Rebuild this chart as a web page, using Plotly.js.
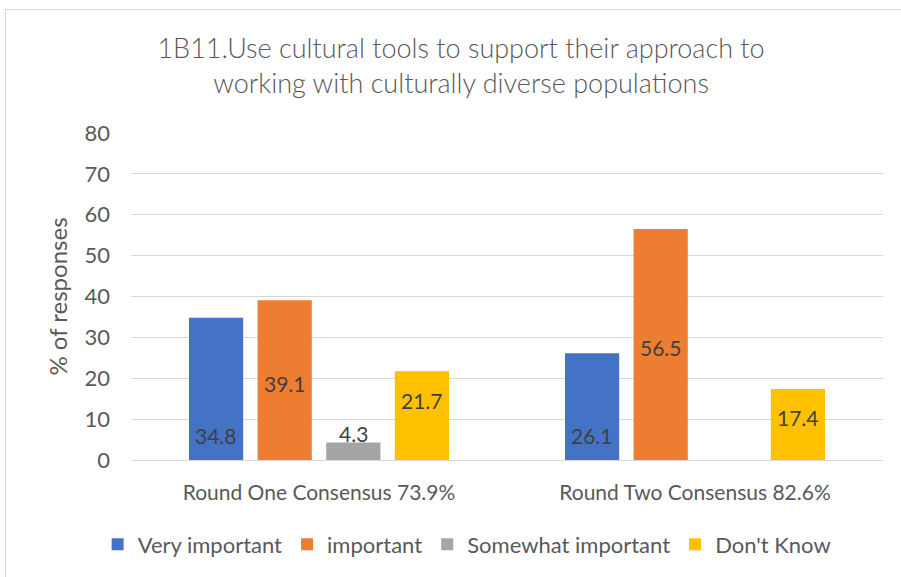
<!DOCTYPE html>
<html>
<head>
<meta charset="utf-8">
<script src="https://cdn.plot.ly/plotly-3.0.1.min.js"></script>
<style>
html,body{margin:0;padding:0;background:#fff;}
#frame{position:absolute;left:5px;top:9px;width:910px;height:600px;border:1px solid #d9d9d9;box-sizing:border-box;pointer-events:none;z-index:5;}
#chart{position:absolute;left:0;top:0;width:901px;height:577px;}
</style>
</head>
<body>
<div id="frame"></div>
<div id="chart"></div>
<script>
var categories = ["Round One Consensus 73.9%", "Round Two Consensus 82.6%"];
var seriesNames = ["Very important", "important", "Somewhat important", "Don't Know"];
var veryImportant = [34.8, 26.1];
var important = [39.1, 56.5];
var somewhatImportant = [4.3, null];
var dontKnow = [21.7, 17.4];
var yTicks = [0, 10, 20, 30, 40, 50, 60, 70, 80];

var colors = ["#4472C4", "#ED7D31", "#A5A5A5", "#FFC000"];
var font = "Lato, 'Open Sans', sans-serif";
var labelFont = {family: font, size: 21, color: "#404040"};

var W = 901, H = 577;
var margin = {l:131, r:18, t:133, b:115};
var bargap = 0.27, bargroupgap = 0.21;

var series = [veryImportant, important, somewhatImportant, dontKnow];
var traces = series.map(function(vals, i){
  return {type:"bar", name:seriesNames[i], x:categories, y:vals, marker:{color:colors[i]}, hoverinfo:"none"};
});

// data label placement rules (mimicking the original Excel label positions)
var labelRule = [
  function(v){ return {y:0, yshift:25}; },        // inside base
  function(v){ return {y:v/2, yshift:-3}; },      // centre
  function(v){ return {y:v, yshift:9}; },         // outside end
  function(v){ return {y:v, yshift:-29}; }        // inside end
];

var plotW = W - margin.l - margin.r;
var catW = plotW / categories.length;
var pitch = catW * (1 - bargap) / series.length;
var annotations = [];
series.forEach(function(vals, i){
  vals.forEach(function(v, j){
    if (v === null) return;
    var r = labelRule[i](v);
    annotations.push({x: categories[j], y: r.y, xref:"x", yref:"y", text: v.toFixed(1),
      showarrow:false, xshift:(i - (series.length-1)/2) * pitch, yshift:r.yshift,
      font: labelFont, xanchor:"center", yanchor:"middle"});
  });
});

var layout = {
  width: W, height: H,
  margin: margin,
  paper_bgcolor: "rgba(0,0,0,0)", plot_bgcolor: "#fff",
  title: {text: "1B11.Use cultural tools to support their approach to<br>working with culturally diverse populations",
          font: {family: font, size: 27, color: "#595959", weight: 300}, x: 0.5117, xanchor: "center", y: 0.8995, yanchor: "middle"},
  barmode: "group", bargap: bargap, bargroupgap: bargroupgap,
  showlegend: true,
  legend: {orientation: "h", x: 0.447, xanchor: "center", y: -0.258, yanchor: "middle",
           font: {family: font, size: 22, color: "#595959"}, traceorder: "normal", itemwidth: 30},
  annotations: annotations,
  xaxis: {type: "category", showgrid: false, showline: true, linecolor: "#d9d9d9", linewidth: 1,
          ticks: "", ticklabelstandoff: 14, tickfont: {family: font, size: 21, color: "#595959"}},
  yaxis: {range: [0, 80], tickvals: yTicks, showgrid: true, gridcolor: "#d9d9d9", gridwidth: 1,
          zeroline: false, showline: false, ticks: "", ticklabelstandoff: 20,
          tickfont: {family: font, size: 22, color: "#595959"},
          title: {text: "% of responses", font: {family: font, size: 24, color: "#595959"}, standoff: 10}}
};

Plotly.newPlot("chart", traces, layout, {displayModeBar: false, staticPlot: true});
</script>
</body>
</html>
